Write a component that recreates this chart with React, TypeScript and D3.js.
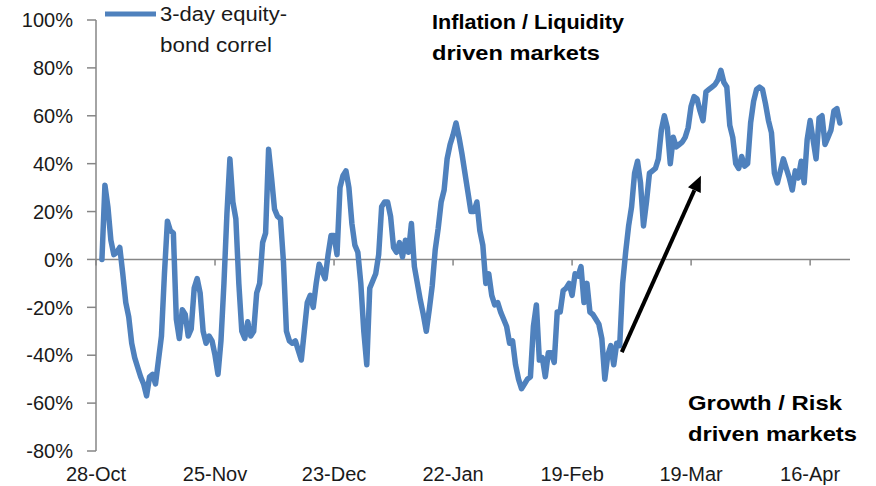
import React from "react";
import * as d3 from "d3";

// ---- data ----
const tickLabels = ["28-Oct", "25-Nov", "23-Dec", "22-Jan", "19-Feb", "19-Mar", "16-Apr"];
const tickIndices = [0, 40, 80, 120, 160, 200, 240];
const yTicks = [-80, -60, -40, -20, 0, 20, 40, 60, 80, 100];
const firstIndex = 2;
const seriesName = ["3-day equity-", "bond correl"];
// 3-day equity-bond correlation (%), one value per step starting at firstIndex
const correl = [
  0, 31, 22, 8, 2, 3, 5, -6, -18, -24,
  -35, -41, -45, -49, -52, -57, -49, -48, -52, -42,
  -32, -6, 16, 12, 11, -25, -33, -21, -23, -32,
  -29, -12, -8, -14, -30, -35, -32, -34, -40, -48,
  -34, -10, 19, 42, 24, 17, -10, -30, -33, -26,
  -32, -30, -14, -10, 7, 11, 46, 34, 21, 18,
  17, -1, -30, -34, -35, -34, -38, -42, -30, -18,
  -15, -20, -10, -2, -5, -8, 2, 10, 10, 2,
  30, 35, 37, 30, 15, 6, 3, -10, -30, -44,
  -12, -9, -6, 2, 22, 24, 24, 18, 5, 3,
  7, 1, 8, 3, 15, -3, -10, -17, -23, -30,
  -21, -11, 4, 13, 24, 29, 42, 48, 52, 57,
  51, 44, 36, 28, 20, 20, 24, 12, 6, -10,
  -6, -15, -19, -18, -22, -25, -28, -35, -34, -44,
  -50, -54, -52, -50, -49, -28, -19, -42, -41, -49,
  -39, -39, -43, -22, -22, -13, -12, -10, -15, -6,
  -7, -3, -18, -10, -22, -23, -25, -27, -33, -50,
  -40, -36, -44, -35, -36, -10, 3, 14, 22, 36,
  41, 32, 14, 24, 36, 37, 38, 42, 54, 60,
  55, 40, 51, 47, 48, 49, 51, 55, 64, 68,
  67, 62, 58, 70, 71, 72, 73, 75, 79, 74,
  72, 56, 51, 40, 38, 43, 39, 40, 57, 66,
  71, 72, 71, 65, 58, 53, 36, 32, 37, 42,
  38, 34, 29, 37, 34, 41, 32, 50, 58, 50,
  42, 59, 60, 48, 51, 54, 62, 63, 57,
];
const arrowFrom = { i: 176.7, v: -38.7 };
const arrowTo = { i: 203.3, v: 35 };

const W = 876;
const H = 486;
const FONT = "'Liberation Sans', Arial, sans-serif";

export default function App() {
  const x = d3.scaleLinear().domain([0, 253.4]).range([96, 850]);
  const y = d3.scaleLinear().domain([-80, 100]).range([451, 20]);

  const line = d3
    .line<number>()
    .x((_, i) => x(i + firstIndex))
    .y((d) => y(d))
    .curve(d3.curveLinear);

  const ax0 = x(arrowFrom.i), ay0 = y(arrowFrom.v);
  const ax1 = x(arrowTo.i), ay1 = y(arrowTo.v);
  const ang = Math.atan2(ay1 - ay0, ax1 - ax0);
  const headLen = 16, headW = 7;
  const bx = ax1 - headLen * Math.cos(ang), by = ay1 - headLen * Math.sin(ang);
  const head = [
    [ax1, ay1],
    [bx + headW * Math.sin(ang), by - headW * Math.cos(ang)],
    [bx - headW * Math.sin(ang), by + headW * Math.cos(ang)],
  ];

  const axisColor = "#868686";

  return (
    <svg
      width={W}
      height={H}
      style={{ position: "absolute", left: 0, top: 0, background: "#fff" }}
      fontFamily={FONT}
    >
      {/* y axis */}
      <line x1={96} x2={96} y1={y(100)} y2={y(-80)} stroke={axisColor} strokeWidth={1.5} />
      {yTicks.map((t) => (
        <g key={t}>
          <line x1={87} x2={96} y1={y(t)} y2={y(t)} stroke={axisColor} strokeWidth={1.5} />
          <text x={73} y={y(t)} dy="0.36em" textAnchor="end" fontSize={20} fill="#1a1a1a">
            {t + "%"}
          </text>
        </g>
      ))}
      {/* x axis at 0 */}
      <line x1={96} x2={850} y1={y(0)} y2={y(0)} stroke={axisColor} strokeWidth={1.5} />
      {tickIndices.map((ti, k) => (
        <g key={ti}>
          <line x1={x(ti)} x2={x(ti)} y1={y(0)} y2={y(0) + 6} stroke={axisColor} strokeWidth={1.5} />
          <text x={x(ti)} y={481} textAnchor="middle" fontSize={20} fill="#1a1a1a">
            {tickLabels[k]}
          </text>
        </g>
      ))}

      {/* series */}
      <path
        d={line(correl) || ""}
        fill="none"
        stroke="#4f81bd"
        strokeWidth={5.5}
        strokeLinejoin="round"
        strokeLinecap="round"
      />

      {/* arrow */}
      <line x1={ax0} y1={ay0} x2={bx} y2={by} stroke="#000" strokeWidth={4} />
      <polygon points={head.map((p) => p.join(",")).join(" ")} fill="#000" />

      {/* legend */}
      <line x1={105} x2={156} y1={14} y2={14} stroke="#4f81bd" strokeWidth={5} />
      <text x={160} y={21} fontSize={20} fill="#1a1a1a" textLength={127} lengthAdjust="spacingAndGlyphs">
        {seriesName[0]}
      </text>
      <text x={160} y={52} fontSize={20} fill="#1a1a1a" textLength={112} lengthAdjust="spacingAndGlyphs">
        {seriesName[1]}
      </text>

      {/* annotations */}
      <g fontWeight="bold" fontSize={21} fill="#000">
        <text x={432} y={29} textLength={192} lengthAdjust="spacingAndGlyphs">Inflation / Liquidity</text>
        <text x={432} y={60} textLength={168} lengthAdjust="spacingAndGlyphs">driven markets</text>
        <text x={688} y={410} textLength={154} lengthAdjust="spacingAndGlyphs">Growth / Risk</text>
        <text x={688} y={441} textLength={169} lengthAdjust="spacingAndGlyphs">driven markets</text>
      </g>
    </svg>
  );
}
